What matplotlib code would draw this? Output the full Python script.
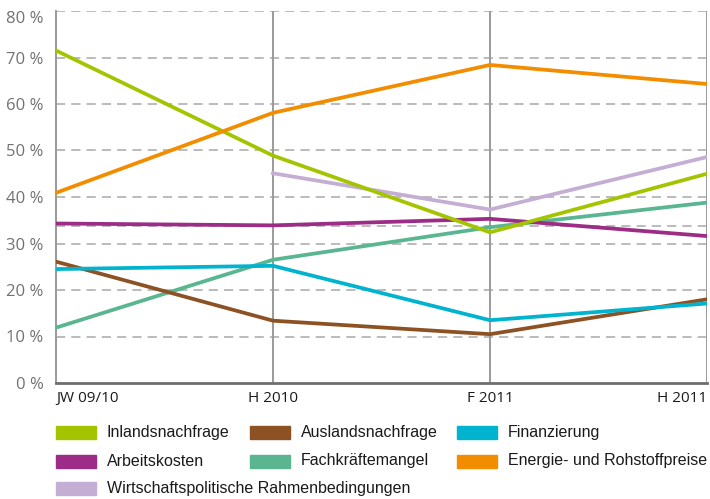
import numpy as np
import matplotlib.pyplot as plt
from matplotlib.patches import Rectangle

# Chart data (share of firms, %)
periods = ["JW 09/10", "H 2010", "F 2011", "H 2011"]
inlandsnachfrage = [71.5, 48.9, 32.4, 45.0]
auslandsnachfrage = [26.1, 13.4, 10.5, 18.0]
finanzierung = [24.5, 25.2, 13.5, 17.1]
arbeitskosten = [34.3, 33.9, 35.3, 31.6]
fachkraeftemangel = [11.9, 26.5, 33.5, 38.8]
energie = [40.9, 58.1, 68.4, 64.3]
wirtschaftspolitik = [np.nan, 45.1, 37.3, 48.6]
y_ticks = [0, 10, 20, 30, 40, 50, 60, 70, 80]

series = [
    ("Inlandsnachfrage", inlandsnachfrage, "#a5c400"),
    ("Auslandsnachfrage", auslandsnachfrage, "#8c5224"),
    ("Finanzierung", finanzierung, "#00b3cf"),
    ("Arbeitskosten", arbeitskosten, "#9c2c86"),
    ("Fachkräftemangel", fachkraeftemangel, "#5ab690"),
    ("Energie- und Rohstoffpreise", energie, "#f28d00"),
    ("Wirtschaftspolitische Rahmenbedingungen", wirtschaftspolitik, "#c4aed4"),
]

plt.rcParams["font.family"] = ["Open Sans", "DejaVu Sans"]

fig = plt.figure(figsize=(7.10, 4.99), dpi=100)
ax = fig.add_axes([56 / 710, 1 - 383 / 499, (707 - 56) / 710, (383 - 11) / 499])

x = np.arange(len(periods))

# grid
for yt in y_ticks[1:]:
    ax.axhline(yt, color="#a8a8a8", lw=1.1, dashes=(6, 4), zorder=1)
ax.axhline(33.8, color="#a8a8a8", lw=1.1, dashes=(6, 4), zorder=1)
for xi in x[1:]:
    ax.axvline(xi, color="#9a9a9a", lw=1.4, zorder=1)

draw_order = [6, 4, 3, 1, 2, 0, 5]
for i in draw_order:
    name, vals, col = series[i]
    ax.plot(x, vals, color=col, lw=2.7, solid_joinstyle="miter", zorder=3)

ax.set_xlim(0, len(periods) - 1)
ax.set_ylim(0, 80)
ax.set_yticks(y_ticks)
ax.set_yticklabels([f"{v} %" for v in y_ticks], color="#727272", fontsize=12)
ax.get_yticklabels()[-1].set_va("top")
ax.set_xticks(x)
ax.set_xticklabels(periods, fontsize=11, color="#1a1a1a")
labels = ax.get_xticklabels()
labels[0].set_ha("left")
labels[-1].set_ha("right")
ax.tick_params(axis="both", length=0)
ax.tick_params(axis="y", pad=9)
ax.tick_params(axis="x", pad=6)

for s in ["top", "right"]:
    ax.spines[s].set_visible(False)
ax.spines["left"].set_color("#9a9a9a")
ax.spines["left"].set_linewidth(1.4)
ax.spines["bottom"].set_color("#6e6e6e")
ax.spines["bottom"].set_linewidth(2.0)

# legend, laid out in three columns by hand
col_x = [56, 250, 457]
row_y = [432, 461, 488]
for k, (name, vals, col) in enumerate(series):
    r, c = divmod(k, 3)
    px, py = col_x[c], row_y[r]
    fig.patches.append(Rectangle((px / 710, 1 - (py + 6.5) / 499), 40 / 710, 13 / 499,
                                 transform=fig.transFigure, color=col))
    fig.text((px + 51) / 710, 1 - py / 499, name, fontsize=11.5, va="center", ha="left",
             color="#1a1a1a", family=["Liberation Sans", "DejaVu Sans"])

fig.savefig("out.png", dpi=100)
